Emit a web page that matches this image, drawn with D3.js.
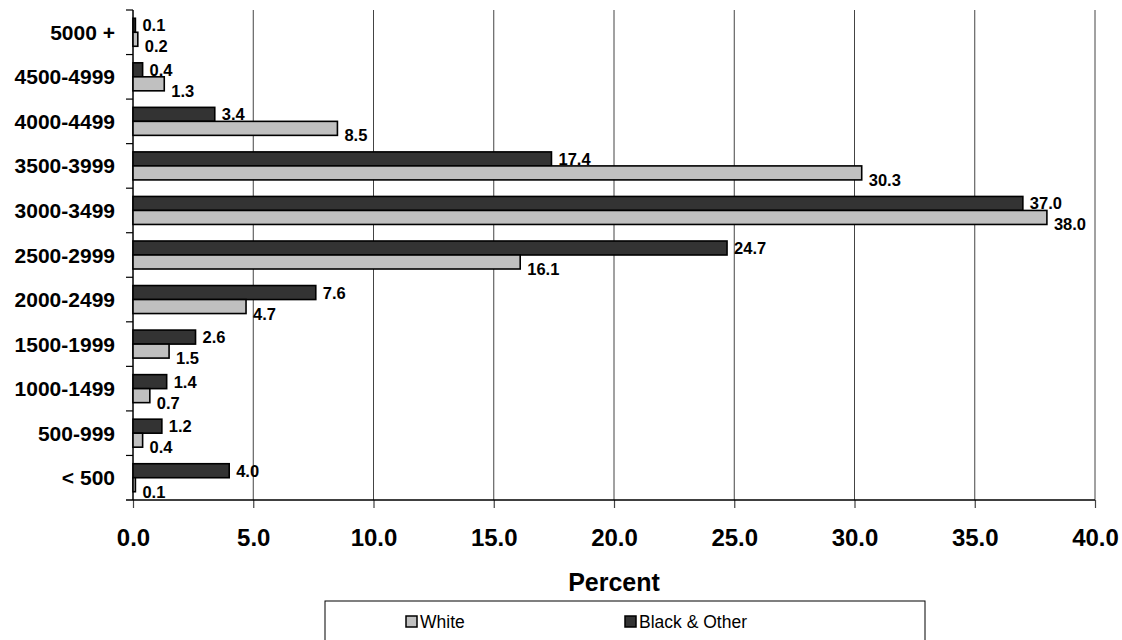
<!DOCTYPE html>
<html>
<head>
<meta charset="utf-8">
<script src="https://cdn.jsdelivr.net/npm/d3@7"></script>
<style>
html,body{margin:0;padding:0;background:#fff;}
svg{display:block;font-family:"Liberation Sans",Arial,sans-serif;}
</style>
</head>
<body>
<svg id="chart" width="1122" height="640"></svg>
<script>
const categories = ["5000 +","4500-4999","4000-4499","3500-3999","3000-3499","2500-2999","2000-2499","1500-1999","1000-1499","500-999","< 500"];
const whiteValues = [0.2,1.3,8.5,30.3,38.0,16.1,4.7,1.5,0.7,0.4,0.1];
const blackValues = [0.1,0.4,3.4,17.4,37.0,24.7,7.6,2.6,1.4,1.2,4.0];
const xTicks = [0,5,10,15,20,25,30,35,40];
const seriesNames = ["White","Black & Other"];

(function(){
const svg = d3.select("#chart");
const mLeft = 133, mRight = 1095, mTop = 10, mBottom = 500;

const x = d3.scaleLinear().domain([0,40]).range([mLeft,mRight]);
const y = d3.scaleBand().domain(categories).range([mTop,mBottom]).padding(0);
const bw = y.bandwidth();
const barH = 14;
const inner = d3.scaleBand().domain(["black","white"]).range([bw/2-barH, bw/2+barH]);

// gridlines
svg.append("g").selectAll("line").data(xTicks.slice(1)).join("line")
  .attr("x1",d=>x(d)).attr("x2",d=>x(d)).attr("y1",mTop).attr("y2",mBottom)
  .attr("stroke","#444").attr("stroke-width",1);

// bottom axis
const xAxis = d3.axisBottom(x).tickValues(xTicks).tickSize(8).tickSizeOuter(0).tickFormat(d3.format(".1f"));
const gx = svg.append("g").attr("transform",`translate(0,${mBottom})`).call(xAxis);
gx.select(".domain").remove();
gx.selectAll(".tick line").attr("stroke","#444").attr("stroke-width",1.2);
gx.selectAll(".tick text").attr("font-size",24).attr("font-weight","bold").attr("fill","#000")
  .attr("font-family","Liberation Sans, Arial, sans-serif").attr("y",46).attr("dy",0);
svg.append("line").attr("x1",mLeft-7).attr("x2",mRight).attr("y1",mBottom).attr("y2",mBottom)
  .attr("stroke","#000").attr("stroke-width",1.5);

// left axis
svg.append("line").attr("x1",mLeft).attr("x2",mLeft).attr("y1",mTop).attr("y2",mBottom)
  .attr("stroke","#000").attr("stroke-width",1.5);
const bounds = categories.map(c=>y(c));
svg.append("g").selectAll("line").data(bounds).join("line")
  .attr("x1",mLeft-7).attr("x2",mLeft).attr("y1",d=>d).attr("y2",d=>d)
  .attr("stroke","#000").attr("stroke-width",1.2);
svg.append("g").selectAll("text").data(categories).join("text")
  .attr("x",mLeft-18).attr("y",d=>y(d)+bw/2)
  .attr("text-anchor","end").attr("dominant-baseline","central")
  .attr("font-size",21).attr("font-weight","bold").text(d=>d);

// bars
const rows = categories.map((c,i)=>({cat:c, white:whiteValues[i], black:blackValues[i]}));
const g = svg.append("g");
const specs = [{key:"black", fill:"#333333", labelDy:0},{key:"white", fill:"#c0c0c0", labelDy:7}];
specs.forEach(s=>{
  g.append("g").selectAll("rect").data(rows).join("rect")
    .attr("x",x(0)).attr("y",d=>y(d.cat)+inner(s.key))
    .attr("width",d=>x(d[s.key])-x(0)).attr("height",inner.bandwidth())
    .attr("fill",s.fill).attr("stroke","#000").attr("stroke-width",1.6);
  g.append("g").selectAll("text").data(rows).join("text")
    .attr("x",d=>x(d[s.key])+7)
    .attr("y",d=>y(d.cat)+inner(s.key)+inner.bandwidth()/2+s.labelDy)
    .attr("dominant-baseline","central")
    .attr("font-size",16.5).attr("font-weight","bold").text(d=>d[s.key].toFixed(1));
});

// x title
svg.append("text").attr("x",614).attr("y",591).attr("text-anchor","middle")
  .attr("font-size",25).attr("font-weight","bold").text("Percent");

// legend
const lg = svg.append("g");
lg.append("rect").attr("x",325).attr("y",601).attr("width",600).attr("height",50)
  .attr("fill","#fff").attr("stroke","#000").attr("stroke-width",1);
const legendItems = [{name:seriesNames[0], fill:"#c0c0c0", x:406},{name:seriesNames[1], fill:"#333333", x:625}];
legendItems.forEach(it=>{
  lg.append("rect").attr("x",it.x).attr("y",616).attr("width",11).attr("height",11)
    .attr("fill",it.fill).attr("stroke","#000").attr("stroke-width",1.5);
  lg.append("text").attr("x",it.x+14).attr("y",622).attr("dominant-baseline","central")
    .attr("font-size",17.5).text(it.name);
});
})();
</script>
</body>
</html>
